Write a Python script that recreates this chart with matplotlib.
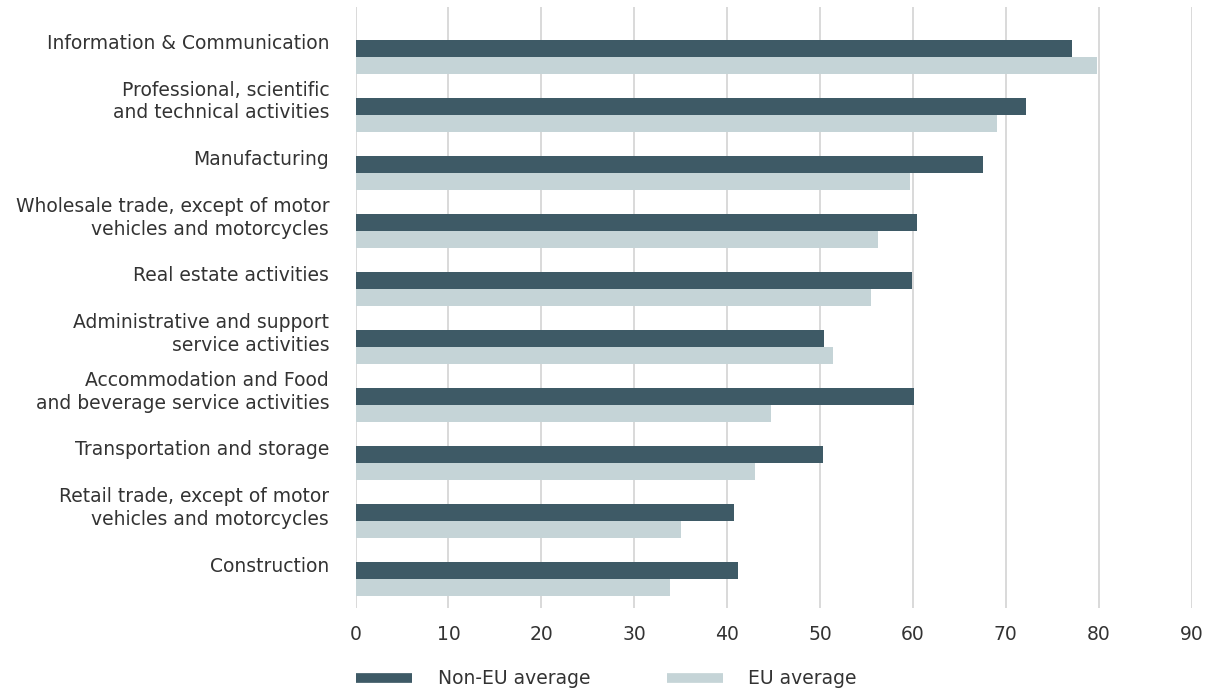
import numpy as np
from matplotlib import pyplot as plt
from matplotlib.lines import Line2D

plt.rcParams["font.family"] = ["DejaVu Sans"]

CATEGORIES = [
    "Information & Communication",
    "Professional, scientific\nand technical activities",
    "Manufacturing",
    "Wholesale trade, except of motor\nvehicles and motorcycles",
    "Real estate activities",
    "Administrative and support\nservice activities",
    "Accommodation and Food\nand beverage service activities",
    "Transportation and storage",
    "Retail trade, except of motor\nvehicles and motorcycles",
    "Construction",
]
NON_EU = [77.1, 72.2, 67.5, 60.4, 59.9, 50.4, 60.1, 50.3, 40.7, 41.2]
EU = [79.8, 69.1, 59.7, 56.2, 55.5, 51.4, 44.7, 43.0, 35.0, 33.9]

DARK = "#3e5a66"
LIGHT = "#c5d4d7"
TEXT = "#333333"
FS = 13.5

fig = plt.figure(figsize=(12.11, 6.90), dpi=100)
ax = fig.add_axes([0.2936, 0.119, 0.6904, 0.871])

y = np.arange(len(CATEGORIES))
h = 0.293
ax.barh(y - h / 2, NON_EU, height=h, color=DARK, zorder=3)
ax.barh(y + h / 2, EU, height=h, color=LIGHT, zorder=3)

ax.set_xlim(0, 90)
ax.set_ylim(9.49, -0.86)
ax.set_xticks(range(0, 91, 10))
ax.set_yticks(y - 0.23)
ax.set_yticklabels(CATEGORIES, fontsize=FS, color=TEXT, linespacing=1.25, va="center")
ax.tick_params(axis="y", length=0, pad=19)
ax.tick_params(axis="x", length=0, pad=12, labelsize=FS, labelcolor=TEXT)
ax.grid(axis="x", color="#d3d3d3", linewidth=1.2, zorder=0)
for s in ax.spines.values():
    s.set_visible(False)

handles = [
    Line2D([], [], color=DARK, linewidth=7, solid_capstyle="butt"),
    Line2D([], [], color=LIGHT, linewidth=7, solid_capstyle="butt"),
]
fig.legend(
    handles, ["Non-EU average", "EU average"],
    loc="center left", bbox_to_anchor=(0.28, 0.016), ncol=2, frameon=False,
    fontsize=FS, labelcolor=TEXT, handlelength=3.0, handletextpad=1.35,
    columnspacing=4.1,
)

fig.savefig("out.png", dpi=100)
